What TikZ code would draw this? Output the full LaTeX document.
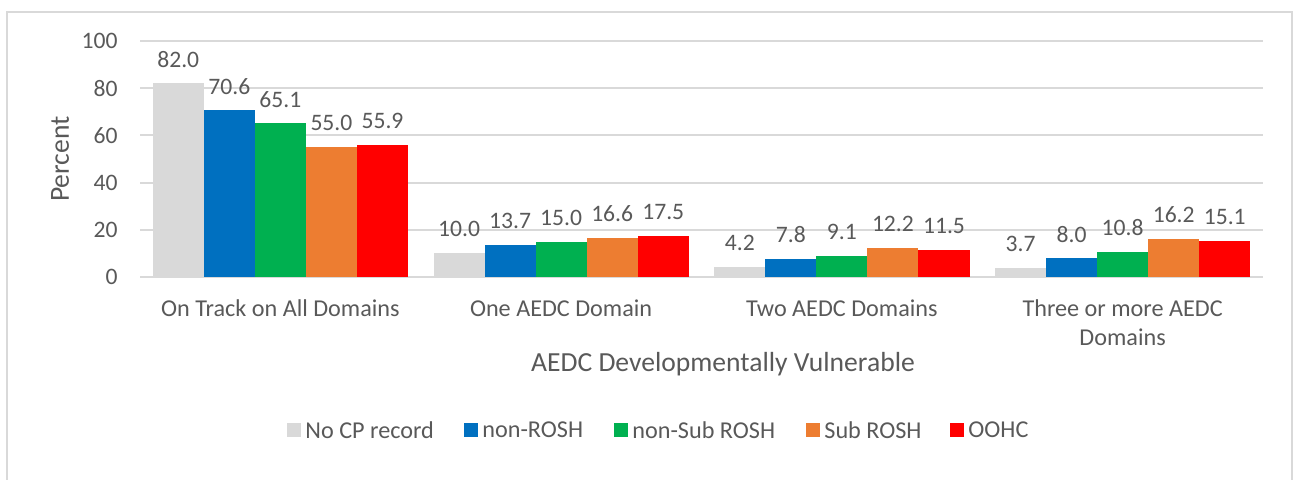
\documentclass[tikz,border=0pt]{standalone}
\usepackage{fontspec}
\setmainfont{Carlito}
\definecolor{txt}{HTML}{595959}
\definecolor{gridc}{HTML}{D9D9D9}
\definecolor{cb0}{HTML}{D9D9D9}
\definecolor{cb1}{HTML}{0070C0}
\definecolor{cb2}{HTML}{00B050}
\definecolor{cb3}{HTML}{ED7D31}
\definecolor{cb4}{HTML}{FF0000}
\tikzset{
  lbl/.style={text=txt, inner sep=0pt, font=\fontsize{11.3}{14.5}\selectfont},
  vallbl/.style={lbl, font=\fontsize{11.8}{14.5}\selectfont},
  catlbl/.style={lbl, font=\fontsize{12.1}{14.7}\selectfont},
  ttl/.style={lbl, font=\fontsize{13.8}{16}\selectfont},
  gridline/.style={draw=gridc, line width=1pt},
  frameline/.style={draw=gridc, line width=1pt},
  legbox/.style={minimum size=7pt, inner sep=0pt, draw=none}
}
\begin{document}
\begin{tikzpicture}[x=0.5pt,y=-0.5pt]
\useasboundingbox (0,0) rectangle (1293,480);
% chart frame
\coordinate (f1) at (7,480);
\coordinate (f2) at (7,12);
\coordinate (f3) at (1292,12);
\coordinate (f4) at (1292,480);
\draw[frameline] (f1) -- (f2) -- (f3) -- (f4);
% gridlines and tick labels
\foreach \v in {0,20,40,60,80,100}{
  \coordinate (gl\v) at (140,{277-\v*2.36});
  \coordinate (gr\v) at (1263,{277-\v*2.36});
  \draw[gridline] (gl\v) -- (gr\v);
  \node[vallbl, anchor=east] (t\v) at (118,{277-\v*2.36}) {\v};
}
% bars
\foreach \g/\vals in {0/{82.0,70.6,65.1,55.0,55.9},1/{10.0,13.7,15.0,16.6,17.5},2/{4.2,7.8,9.1,12.2,11.5},3/{3.7,8.0,10.8,16.2,15.1}}{
  \foreach \v [count=\i from 0] in \vals {
    \pgfmathsetmacro{\xa}{140+\g*280.75+12.76+\i*51.05}
    \pgfmathsetmacro{\xb}{\xa+51.05}
    \pgfmathsetmacro{\xc}{\xa+25.525}
    \pgfmathsetmacro{\yt}{277-\v*2.36}
    \fill[cb\i] (\xa,277) rectangle (\xb,\yt);
    \node[vallbl] (l\g\i) at (\xc,{\yt-24}) {\v};
  }
}
% category labels
\node[catlbl, anchor=north] (c0) at (280.4,299) {On Track on All Domains};
\node[catlbl, anchor=north] (c1) at (561.1,299) {One AEDC Domain};
\node[catlbl, anchor=north] (c2) at (841.9,299) {Two AEDC Domains};
\node[catlbl, anchor=north, align=center] (c3) at (1122.6,299) {Three or more AEDC\\Domains};
% axis titles
\node[ttl] (xt) at (723,364) {AEDC Developmentally Vulnerable};
\node[ttl, rotate=90] (yt) at (60,159) {Percent};
% legend
\foreach \xl/\c/\t [count=\k from 0] in {287/cb0/No CP record,464/cb1/non-ROSH,614/cb2/non-Sub ROSH,806/cb3/Sub ROSH,950/cb4/OOHC}{
  \node[legbox, fill=\c, anchor=west] (k\k) at (\xl,430) {};
  \node[catlbl, anchor=west] (n\k) at (\xl+18,430) {\t};
}
\end{tikzpicture}
\end{document}
